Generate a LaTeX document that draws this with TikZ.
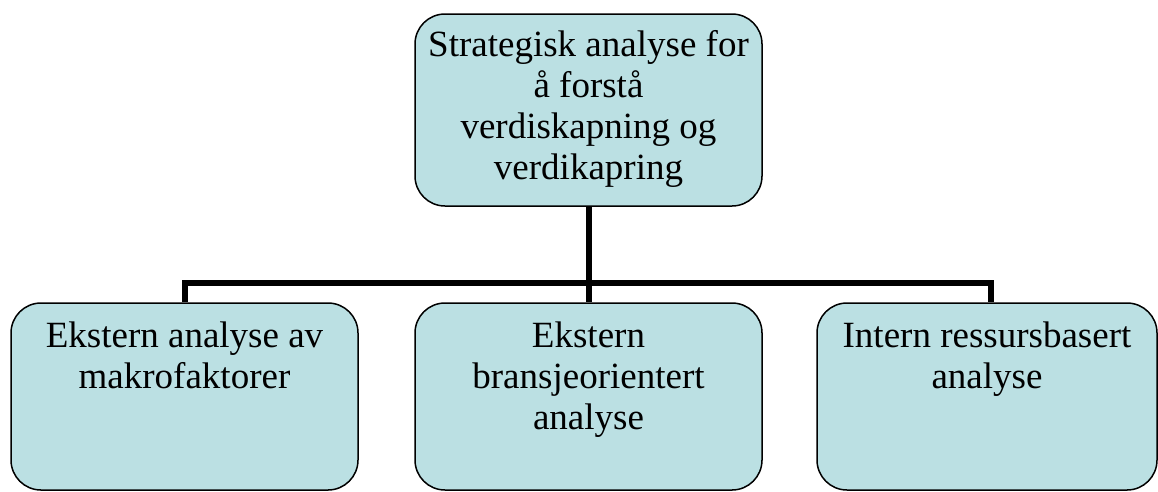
\documentclass[tikz,border=0pt]{standalone}
\usepackage{fontspec}
\setmainfont{Liberation Serif}
\definecolor{boxfill}{RGB}{187,224,227}
\begin{document}
\begin{tikzpicture}[x=1pt,y=-1pt,
  box/.style={draw=black, line width=1.5pt, fill=boxfill, rounded corners=30pt, inner sep=0pt},
  txt/.style={font=\fontsize{37}{41}\selectfont, align=center, inner sep=0pt},
  conn/.style={draw=black, line width=6pt, line join=miter}]
\useasboundingbox (0,0) rectangle (1158,491);
% boxes
\node[box, minimum width=347pt, minimum height=192pt] (top) at (588.5,110) {};
\node[box, minimum width=347pt, minimum height=187pt] (left) at (184.5,396.5) {};
\node[box, minimum width=347pt, minimum height=187pt] (mid) at (588.5,396.5) {};
\node[box, minimum width=340pt, minimum height=187pt] (right) at (987,396.5) {};
% texts
\node[txt] (ttop) at ([yshift=1pt]top.center) {Strategisk analyse for\\å forstå\\verdiskapning og\\verdikapring};
\node[txt, anchor=north] (tleft) at ([yshift=-19pt]left.north) {Ekstern analyse av\\makrofaktorer};
\node[txt, anchor=north] (tmid) at ([yshift=-19pt]mid.north) {Ekstern\\bransjeorientert\\analyse};
\node[txt, anchor=north] (tright) at ([yshift=-19pt]right.north) {Intern ressursbasert\\analyse};
% connectors
\coordinate (bus) at (588.5,283);
\coordinate (rdrop) at ([xshift=4pt]right.north);
\draw[conn] (top.south) -- (bus);
\draw[conn] (left.north) |- (bus) -| (rdrop);
\draw[conn] (bus) -- (mid.north);
\end{tikzpicture}
\end{document}
